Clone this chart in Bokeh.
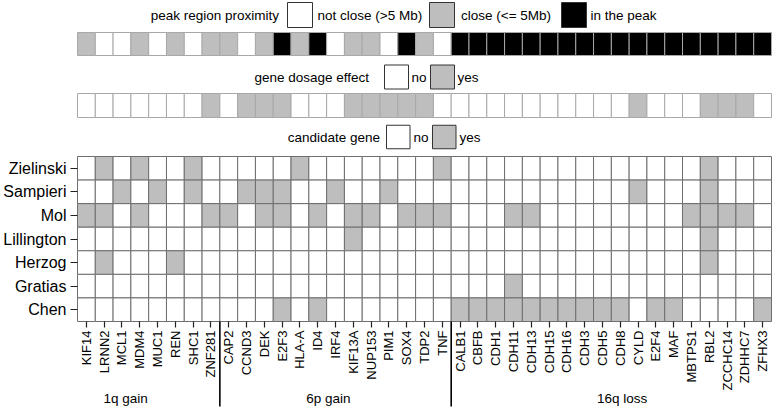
import math
from bokeh.plotting import figure
from bokeh.models import Range1d, LinearAxis, FixedTicker, ColumnDataSource
from bokeh.core.properties import value
from bokeh.embed import file_html
from bokeh.resources import INLINE

# ---------------- data ----------------
genes = ["KIF14", "LRNN2", "MCL1", "MDM4", "MUC1", "REN", "SHC1", "ZNF281",
         "CAP2", "CCND3", "DEK", "E2F3", "HLA-A", "ID4", "IRF4", "KIF13A", "NUP153",
         "PIM1", "SOX4", "TDP2", "TNF",
         "CALB1", "CBFB", "CDH1", "CDH11", "CDH13", "CDH15", "CDH16", "CDH3", "CDH5",
         "CDH8", "CYLD", "E2F4", "MAF", "MBTPS1", "RBL2", "ZCCHC14", "ZDHHC7", "ZFHX3"]
group_names = ["1q gain", "6p gain", "16q loss"]
group_sizes = [8, 13, 18]

# peak region proximity: 0 = not close, 1 = close, 2 = in the peak
peak_labels = ["not close (>5 Mb)", "close (<= 5Mb)", "in the peak"]
peak = [1, 0, 0, 1, 0, 1, 0, 1,
        1, 0, 1, 2, 1, 2, 0, 1, 1, 0, 2, 1, 0,
        2, 2, 2, 2, 2, 2, 2, 2, 2, 2, 2, 2, 2, 2, 2, 2, 2, 2]

# gene dosage effect: 0 = no, 1 = yes
dosage = [0, 0, 0, 0, 0, 0, 0, 1,
          0, 1, 1, 1, 0, 0, 0, 1, 1, 1, 1, 1, 0,
          0, 0, 0, 0, 0, 0, 0, 0, 0, 0, 1, 0, 0, 0, 1, 1, 1, 0]

samples = ["Zielinski", "Sampieri", "Mol", "Lillington", "Herzog", "Gratias", "Chen"]
candidates = {
    "Zielinski": ["LRNN2", "MDM4", "SHC1", "HLA-A", "TNF", "RBL2"],
    "Sampieri": ["MCL1", "MUC1", "SHC1", "CCND3", "DEK", "E2F3", "IRF4", "PIM1", "CYLD", "RBL2"],
    "Mol": ["KIF14", "LRNN2", "MDM4", "ZNF281", "CAP2", "DEK", "E2F3", "ID4", "KIF13A",
            "NUP153", "SOX4", "TDP2", "TNF", "CDH11", "CDH13", "MBTPS1", "RBL2",
            "ZCCHC14", "ZDHHC7"],
    "Lillington": ["KIF13A", "RBL2"],
    "Herzog": ["LRNN2", "REN", "RBL2"],
    "Gratias": ["CDH11"],
    "Chen": ["E2F3", "ID4", "CALB1", "CBFB", "CDH1", "CDH11", "CDH13", "CDH15", "CDH16",
             "CDH3", "CDH5", "CDH8", "E2F4", "MAF", "ZFHX3"],
}

# ---------------- layout (pixels inside the figure) ----------------
W, H = 773, 408
GRID_LEFT = 77
COLW = 694 / 39
GRID_TOP = 156
ROWH = 165 / 7
GROUP_LABEL_X = [2.2, 13.6, 30.1]   # column units

FONT = value("Liberation Sans")
LEG_SIZE = value("13.5px")
GRAY = "#bebebe"
WHITE = "#ffffff"


def fx2x(fx):
    return -0.5 + (fx - GRID_LEFT) / COLW


def fy2y(fy):
    return -0.5 + (fy - GRID_TOP) / ROWH


p = figure(width=W, height=H,
           x_range=Range1d(fx2x(0), fx2x(W)),
           y_range=Range1d(fy2y(H), fy2y(0)),
           x_axis_type=None, y_axis_type=None,
           toolbar_location=None, output_backend="svg",
           min_border=0, min_border_left=0, min_border_right=0,
           min_border_top=0, min_border_bottom=0,
           outline_line_color=None)
p.background_fill_color = "white"
p.border_fill_color = "white"

ncol = len(genes)
cols = list(range(ncol))

# ---- peak proximity strip ----
peak_colors = [WHITE, GRAY, "black"]
p.rect(x=cols, y=fy2y(43.5), width=1, height=23 / ROWH,
       fill_color=[peak_colors[v] for v in peak], line_color="#a8a8a8", line_width=1)

# ---- gene dosage strip ----
dos_colors = [WHITE, GRAY]
p.rect(x=cols, y=fy2y(105), width=1, height=24 / ROWH,
       fill_color=[dos_colors[v] for v in dosage], line_color="#a8a8a8", line_width=1)

# ---- candidate gene grid ----
xs, ys, fills = [], [], []
for r, s in enumerate(samples):
    for c, g in enumerate(genes):
        xs.append(c)
        ys.append(r)
        fills.append(GRAY if g in candidates[s] else WHITE)
src = ColumnDataSource(dict(x=xs, y=ys, fill=fills))
p.rect(x="x", y="y", width=1, height=1, fill_color="fill", line_color="#6e6e6e",
       line_width=1, source=src)


# ---- legends ----
def legend(title, title_right, cy, boxes, fills_, size, labels, labels_x):
    p.text(x=[fx2x(title_right)], y=[fy2y(cy)], text=[title], text_align="right",
           text_baseline="middle", text_font=FONT, text_font_size=LEG_SIZE,
           text_color="black")
    bx = [fx2x(b + size / 2) for b in boxes]
    p.rect(x=bx, y=fy2y(cy), width=size / COLW, height=size / ROWH,
           fill_color=fills_, line_color="#333333", line_width=1)
    p.text(x=[fx2x(v) for v in labels_x], y=fy2y(cy), text=labels,
           text_align="left", text_baseline="middle", text_font=FONT,
           text_font_size=LEG_SIZE, text_color="black")


legend("peak region proximity", 278.5, 14.5, [287, 429, 561],
       [WHITE, GRAY, "black"], 25, peak_labels, [317, 460.5, 590])
legend("gene dosage effect", 368.5, 76.5, [384, 430], [WHITE, GRAY], 24,
       ["no", "yes"], [411, 457])
legend("candidate gene", 379.5, 136.5, [386, 432], [WHITE, GRAY], 23.5,
       ["no", "yes"], [413, 459])

# ---- axes drawn at the grid edges ----
nrow = len(samples)
xaxis = LinearAxis(ticker=FixedTicker(ticks=cols, minor_ticks=[]),
                   major_label_overrides={i: g for i, g in enumerate(genes)},
                   fixed_location=nrow - 0.5,
                   major_label_orientation=math.pi / 2,
                   major_tick_in=0, major_tick_out=6,
                   minor_tick_in=0, minor_tick_out=0,
                   axis_line_color=None,
                   major_tick_line_color="#222222", major_tick_line_width=1.2,
                   major_label_text_font="Liberation Sans",
                   major_label_text_font_size="13px",
                   major_label_text_color="black",
                   major_label_standoff=3)
p.add_layout(xaxis, "below")

yaxis = LinearAxis(ticker=FixedTicker(ticks=list(range(nrow)), minor_ticks=[]),
                   major_label_overrides={i: s for i, s in enumerate(samples)},
                   fixed_location=-0.5,
                   major_tick_in=0, major_tick_out=7,
                   minor_tick_in=0, minor_tick_out=0,
                   axis_line_color=None,
                   major_tick_line_color="#222222", major_tick_line_width=1.2,
                   major_label_text_font="Liberation Sans",
                   major_label_text_font_size="16px",
                   major_label_text_color="black",
                   major_label_standoff=4)
p.add_layout(yaxis, "left")

# ---- group separators and labels ----
bounds = []
acc = 0
for n in group_sizes[:-1]:
    acc += n
    bounds.append(acc - 0.5)
p.segment(x0=bounds, y0=nrow - 0.5, x1=bounds, y1=fy2y(406), line_color="black",
          line_width=1.6)
p.text(x=GROUP_LABEL_X, y=fy2y(398), text=group_names, text_align="center",
       text_baseline="middle", text_font=FONT, text_font_size=LEG_SIZE,
       text_color="black")

open("out.html", "w").write(file_html(p, INLINE))
